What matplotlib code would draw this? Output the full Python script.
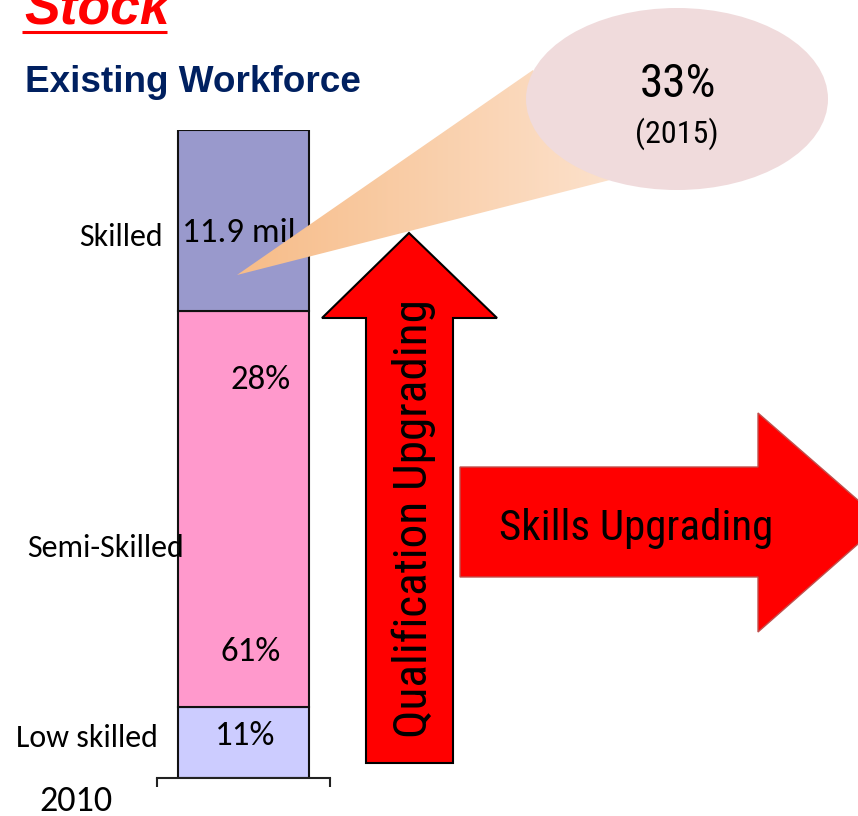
import matplotlib
matplotlib.use("Agg")
import matplotlib.pyplot as plt
import numpy as np
from matplotlib import font_manager
from matplotlib.patches import Polygon, Ellipse
from matplotlib.colors import LinearSegmentedColormap

# data
categories = ["Low skilled", "Semi-Skilled", "Skilled"]
shares = [11, 61, 28]
seg_colors = ["#CCCCFF", "#FF99CC", "#9999CC"]
value_labels = ["11%", "61%", "28%", "11.9 mil"]
label_pos = [(0.01, 6.5), (0.04, 19.4), (0.10, 61.4), (-0.025, 84.1)]   # (x, y) inside bar axes
year = "2010"
target_share = "33%"
target_year = "(2015)"


def pick(names):
    for n in names:
        try:
            font_manager.findfont(n, fallback_to_default=False)
            return n
        except ValueError:
            pass
    return "DejaVu Sans"


narrow = pick(["Liberation Sans Narrow", "Roboto Condensed", "Roboto"])
body = pick(["Carlito", "Lato", "Open Sans"])
arial = pick(["Liberation Sans", "Arial", "DejaVu Sans"])

W, H = 858, 816
fig = plt.figure(figsize=(W / 100, H / 100), dpi=100)


def box(x0, y0, x1, y1):
    return [x0 / W, 1 - y1 / H, (x1 - x0) / W, (y1 - y0) / H]


# stacked bar
ax = fig.add_axes(box(157, 130, 330, 778))
bottoms = np.concatenate([[0], np.cumsum(shares)[:-1]])
ax.bar([0] * len(shares), shares, bottom=bottoms, width=0.763, color=seg_colors,
       edgecolor="#111111", linewidth=1.5, zorder=2)
ax.set_xlim(-0.5, 0.5)
ax.set_ylim(0, 100)
for s in ["top", "right", "left"]:
    ax.spines[s].set_visible(False)
ax.spines["bottom"].set_linewidth(1.5)
ax.spines["bottom"].set_color("#222222")
ax.set_xticks([-0.5, 0.5])
ax.set_xticklabels(["", ""])
ax.tick_params(axis="x", direction="out", length=6.5, width=1.5, color="#222222")
ax.set_yticks([])
ax.patch.set_visible(False)

for txt, (x, y) in zip(value_labels, label_pos):
    ax.text(x, y, txt, ha="center", va="center", fontsize=25, family=body, zorder=3)

# overlay in pixel coordinates
ov = fig.add_axes([0, 0, 1, 1])
ov.set_zorder(2)
ov.patch.set_visible(False)

# callout wedge with gradient
wedge = Polygon([(237, 275), (533, 70), (610, 180)], closed=True,
                facecolor="none", edgecolor="none")
ov.add_patch(wedge)
peach = LinearSegmentedColormap.from_list("peach", ["#F7BC88", "#FCE1CB"])
im = ov.imshow(np.linspace(0, 1, 256).reshape(1, -1), extent=(237, 610, 275, 70),
               cmap=peach, aspect="auto", zorder=3)
im.set_clip_path(wedge)
ov.add_patch(Ellipse((677, 99), 302, 182, facecolor="#F0DBDC", edgecolor="none", zorder=4))
ov.text(678, 97, target_share, ha="center", va="baseline", fontsize=34, family=narrow, zorder=5)
ov.text(677, 143, target_year, ha="center", va="baseline", fontsize=23, family=narrow, zorder=5)

# arrows
up = [(366, 763), (366, 318), (322, 318), (409, 233), (497, 318), (453, 318), (453, 763)]
ov.add_patch(Polygon(up, closed=True, facecolor="#FF0000", edgecolor="black", linewidth=1.5, zorder=3))
ov.text(427, 519, "Qualification Upgrading", rotation=90, rotation_mode="anchor",
        ha="center", va="baseline", fontsize=34, family=narrow, zorder=5)

right = [(460, 467), (758, 467), (758, 413), (883, 522), (758, 632), (758, 577), (460, 577)]
ov.add_patch(Polygon(right, closed=True, facecolor="#FF0000", edgecolor="#C0504D", linewidth=1, zorder=3))
ov.text(636, 540, "Skills Upgrading", ha="center", va="baseline", fontsize=31, family=narrow, zorder=5)

# titles
ov.text(24, 24, "Stock", ha="left", va="baseline", fontsize=38.5, fontweight="bold",
        fontstyle="italic", color="#FF0000", family=arial)
ov.plot([22, 167], [32, 32], color="#FF0000", linewidth=2.2, solid_capstyle="butt")
ov.text(25, 92, "Existing Workforce", ha="left", va="baseline", fontsize=26.6,
        fontweight="bold", color="#002060", family=arial)

# category labels
ov.text(163, 237, categories[2], ha="right", va="center", fontsize=23, family=body, zorder=5)
ov.text(27, 548, categories[1], ha="left", va="center", fontsize=23, family=body, zorder=5)
ov.text(158, 738, categories[0], ha="right", va="center", fontsize=23, family=body, zorder=5)
ov.text(76, 801, year, ha="center", va="center", fontsize=26, family=body, zorder=5)

ov.set_xlim(0, W)
ov.set_ylim(H, 0)
ov.axis("off")

fig.savefig("out.png", dpi=100)
